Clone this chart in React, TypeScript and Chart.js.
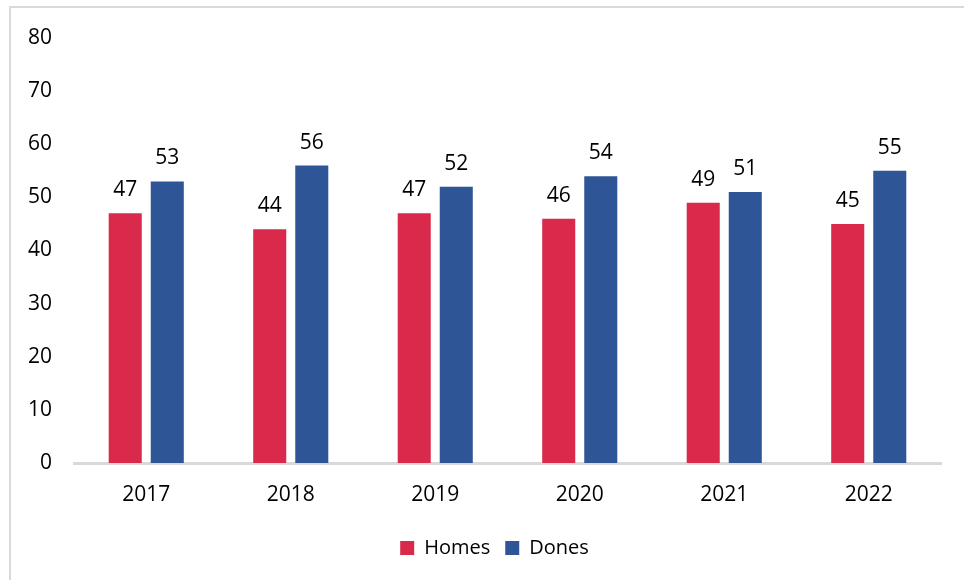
import React, { useEffect, useRef } from "react";
import { Chart, registerables } from "chart.js";

Chart.register(...registerables);

const categories = ["2017", "2018", "2019", "2020", "2021", "2022"];
const homesValues = [47, 44, 47, 46, 49, 45];
const donesValues = [53, 56, 52, 54, 51, 55];
const seriesNames = ["Homes", "Dones"];
const yTicks = [0, 10, 20, 30, 40, 50, 60, 70, 80];

const FONT = "'Open Sans', 'Noto Sans', sans-serif";

const valueLabels = {
  id: "valueLabels",
  afterDatasetsDraw(chart: any) {
    const ctx = chart.ctx;
    ctx.save();
    ctx.font = `21px ${FONT}`;
    ctx.fillStyle = "#000000";
    ctx.textAlign = "center";
    ctx.textBaseline = "alphabetic";
    chart.data.datasets.forEach((ds: any, i: number) => {
      const meta = chart.getDatasetMeta(i);
      meta.data.forEach((bar: any, j: number) => {
        ctx.fillText(String(ds.data[j]), bar.x, bar.y - 17);
      });
    });
    ctx.restore();
  },
};

const shiftLegend = {
  id: "shiftLegend",
  afterLayout(chart: any) {
    const lg = chart.legend;
    if (lg) {
      lg.left += 24;
      lg.right += 24;
      lg.top -= 12;
      lg.bottom -= 12;
    }
  },
};

export default function App() {
  const ref = useRef<HTMLCanvasElement>(null);
  useEffect(() => {
    if (!ref.current) return;
    const chart = new Chart(ref.current, {
      type: "bar",
      data: {
        labels: categories,
        datasets: [
          {
            label: seriesNames[0],
            data: homesValues,
            backgroundColor: "#D92A4C",
            categoryPercentage: 0.582,
            barPercentage: 0.786,
          },
          {
            label: seriesNames[1],
            data: donesValues,
            backgroundColor: "#2E5596",
            categoryPercentage: 0.582,
            barPercentage: 0.786,
          },
        ],
      },
      options: {
        animation: false,
        responsive: false,
        maintainAspectRatio: false,
        layout: { padding: { left: 0, right: 23, top: 38, bottom: 0 } },
        scales: {
          x: {
            grid: { display: false, drawTicks: false },
            border: { display: true, color: "#D9D9D9", width: 3 },
            ticks: { color: "#000", font: { family: FONT, size: 21 }, padding: 19 },
            afterFit(scale: any) {
              scale.height = 72;
            },
          },
          y: {
            min: 0,
            max: 80,
            afterBuildTicks(scale: any) {
              scale.ticks = yTicks.map((v) => ({ value: v }));
            },
            grid: { display: false, drawTicks: false },
            border: { display: false },
            ticks: { color: "#000", font: { family: FONT, size: 21 }, padding: 22 },
            afterFit(scale: any) {
              scale.width = 74;
            },
          },
        },
        plugins: {
          legend: {
            position: "bottom",
            labels: {
              boxWidth: 14,
              boxHeight: 14,
              padding: 15,
              color: "#000",
              font: { family: FONT, size: 20 },
            },
          },
          tooltip: { enabled: false },
        },
      },
      plugins: [valueLabels, shiftLegend],
    });
    return () => chart.destroy();
  }, []);
  return (
    <div style={{ position: "absolute", left: 0, top: 0, width: 964, height: 580, overflow: "hidden", background: "#fff" }}>
      <div
        style={{
          position: "absolute",
          left: 9,
          top: 6,
          width: 1000,
          height: 700,
          border: "2px solid #D9D9D9",
          boxSizing: "border-box",
        }}
      />
      <canvas ref={ref} width={964} height={580} style={{ position: "absolute", left: 0, top: 0 }} />
    </div>
  );
}
